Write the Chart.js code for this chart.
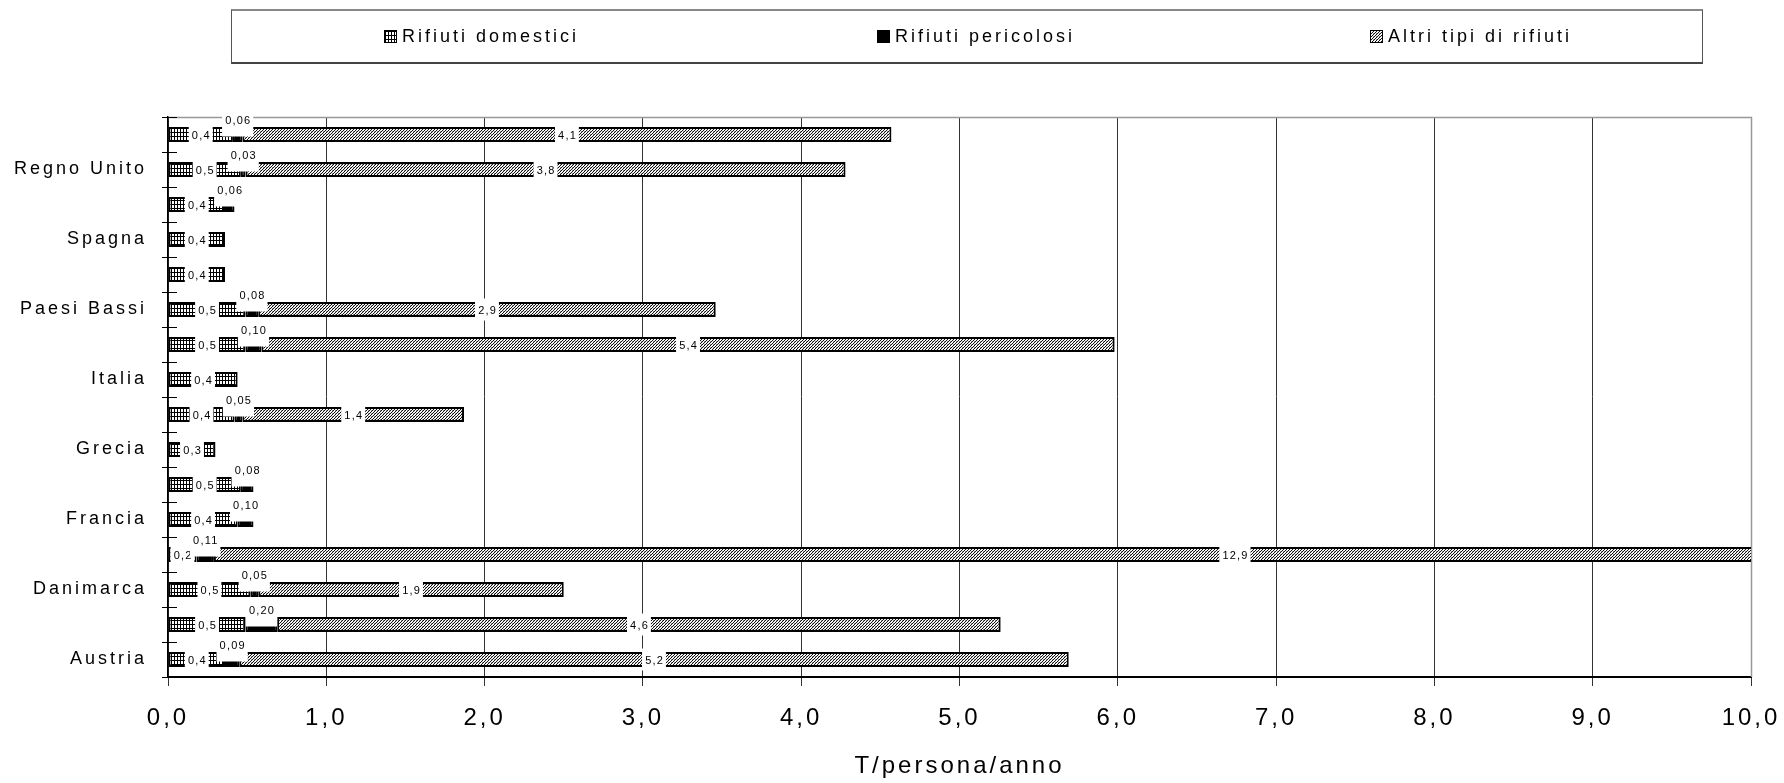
<!DOCTYPE html>
<html lang="it">
<head>
<meta charset="utf-8">
<title>Rifiuti per persona</title>
<script src="https://cdn.jsdelivr.net/npm/chart.js@4.4.1/dist/chart.umd.min.js"></script>
<style>
  html, body { margin: 0; padding: 0; background: #fff; }
  #wrap { position: relative; width: 1784px; height: 783px; overflow: hidden; }
  #grafico { position: absolute; left: 0; top: 0; }
  #legenda {
    position: absolute; left: 231px; top: 9px; width: 1470px; height: 51px;
    border: 1px solid #555; border-top: 2px solid #888; border-bottom: 2px solid #444;
    font: 18px "Liberation Sans", Arial, sans-serif; letter-spacing: 3px; color: #000;
  }
  .voce { position: absolute; top: 0; height: 100%; display: flex; align-items: center; white-space: nowrap; }
  .voce canvas { border: 1px solid #000; margin-right: 5px; }
</style>
</head>
<body>
<div id="wrap">
  <canvas id="grafico" width="1784" height="783"></canvas>
  <div id="legenda"></div>
</div>
<script>
// paesi dal basso verso l'alto (le righe senza nome restano vuote)
const CATEGORIE = ['Austria', '', 'Danimarca', '', 'Francia', '', 'Grecia', '', 'Italia', '',
  'Paesi Bassi', '', 'Spagna', '', 'Regno Unito', ''];
const SERIE = ['Rifiuti domestici', 'Rifiuti pericolosi', 'Altri tipi di rifiuti'];

// T/persona/anno
const DOMESTICI = [0.36, 0.49, 0.52, 0.18, 0.44, 0.46, 0.30, 0.42, 0.44, 0.49, 0.49, 0.36, 0.36, 0.36, 0.46, 0.41];
const PERICOLOSI = [0.09, 0.20, 0.05, 0.11, 0.10, 0.08, null, 0.05, null, 0.10, 0.08, null, null, 0.06, 0.03, 0.06];
const ALTRI = [5.24, 4.57, 1.93, 12.9, null, null, null, 1.40, null, 5.39, 2.89, null, null, null, 3.79, 4.10];
const DECIMALI = [1, 2, 1];

const ASSE_MIN = 0, ASSE_MAX = 10, ASSE_PASSO = 1;
const TITOLO_X = 'T/persona/anno';

const FONT = '"Liberation Sans", Arial, sans-serif';

// retini: griglia, pieno nero, tratteggio obliquo
function tessera(tipo) {
  const c = document.createElement('canvas');
  const g = c.getContext('2d');
  if (tipo === 'griglia') {
    c.width = 3; c.height = 4;
    g.fillStyle = '#fff'; g.fillRect(0, 0, 3, 4);
    g.fillStyle = '#000'; g.fillRect(0, 0, 1, 4); g.fillRect(0, 0, 3, 1);
  } else if (tipo === 'obliquo') {
    c.width = 3; c.height = 3;
    g.fillStyle = '#f4f4f4'; g.fillRect(0, 0, 3, 3);
    g.fillStyle = '#111'; g.fillRect(2, 0, 1, 1); g.fillRect(1, 1, 1, 1); g.fillRect(0, 2, 1, 1);
    g.fillStyle = '#999'; g.fillRect(2, 2, 1, 1);
  } else {
    c.width = 1; c.height = 1;
    g.fillStyle = '#000'; g.fillRect(0, 0, 1, 1);
  }
  return c;
}

const canvas = document.getElementById('grafico');
const ctx = canvas.getContext('2d');
const TESSERE = ['griglia', 'nero', 'obliquo'].map(tessera);
const RIEMPIMENTI = TESSERE.map(t => ctx.createPattern(t, 'repeat'));

// legenda in alto
const POS_LEGENDA = [152, 645, 1138];
const legenda = document.getElementById('legenda');
SERIE.forEach((nome, i) => {
  const voce = document.createElement('div');
  voce.className = 'voce';
  voce.style.left = POS_LEGENDA[i] + 'px';
  const q = document.createElement('canvas');
  q.width = 11; q.height = 11;
  const qg = q.getContext('2d');
  qg.fillStyle = qg.createPattern(TESSERE[i], 'repeat');
  qg.fillRect(0, 0, 11, 11);
  voce.appendChild(q);
  voce.appendChild(document.createTextNode(nome));
  legenda.appendChild(voce);
});

const virgola = (v, d) => v.toFixed(d).replace('.', ',');

// spaziatura delle lettere come nell'originale
const spaziatura = {
  id: 'spaziatura',
  beforeDraw(chart) { chart.ctx.letterSpacing = '3px'; }
};

// cornice dell'area del grafico e tacche sull'asse verticale
const cornice = {
  id: 'cornice',
  beforeDatasetsDraw(chart) {
    const { ctx, chartArea: a, scales: { y } } = chart;
    ctx.save();
    ctx.strokeStyle = '#999';
    ctx.lineWidth = 1.5;
    ctx.beginPath();
    ctx.moveTo(a.left, a.top + 0.5);
    ctx.lineTo(a.right + 0.5, a.top + 0.5);
    ctx.lineTo(a.right + 0.5, a.bottom);
    ctx.stroke();
    const passo = Math.abs(y.getPixelForValue(1) - y.getPixelForValue(0));
    ctx.strokeStyle = '#000';
    ctx.lineWidth = 1;
    ctx.beginPath();
    for (let i = 0; i <= CATEGORIE.length; i++) {
      const py = Math.round(y.getPixelForValue(i) + passo / 2) + 0.5;
      ctx.moveTo(a.left - 6, py);
      ctx.lineTo(a.left + 9, py);
    }
    ctx.stroke();
    ctx.restore();
  }
};

// etichette dei valori con sfondo bianco; quelle dei pericolosi stanno sopra la barra
const etichette = {
  id: 'etichette',
  afterDatasetsDraw(chart) {
    const ctx = chart.ctx;
    ctx.save();
    ctx.font = '11px ' + FONT;
    ctx.letterSpacing = '1.2px';
    ctx.textAlign = 'center';
    ctx.textBaseline = 'middle';
    chart.data.datasets.forEach((ds, i) => {
      const meta = chart.getDatasetMeta(i);
      meta.data.forEach((bar, j) => {
        const v = ds.data[j];
        if (v == null) return;
        const testo = virgola(v, DECIMALI[i]);
        const x = (bar.x + bar.base) / 2;
        const w = ctx.measureText(testo).width + 5;
        let ty, top, h;
        if (i === 1) {
          ty = bar.y - 15;
          top = ty - 10;
          h = bar.y + 2 - top;
        } else {
          ty = bar.y;
          top = ty - 11;
          h = 22;
        }
        ctx.fillStyle = '#fff';
        ctx.fillRect(x - w / 2, top, w, h);
        ctx.fillStyle = '#000';
        ctx.fillText(testo, x + 0.6, ty + 1);
      });
    });
    ctx.restore();
  }
};

new Chart(ctx, {
  type: 'bar',
  data: {
    labels: CATEGORIE,
    datasets: [DOMESTICI, PERICOLOSI, ALTRI].map((valori, i) => ({
      label: SERIE[i],
      data: valori,
      backgroundColor: RIEMPIMENTI[i],
      borderColor: '#000',
      borderWidth: 2,
      borderSkipped: false,
      barPercentage: 0.43,
      categoryPercentage: 1
    }))
  },
  options: {
    indexAxis: 'y',
    responsive: false,
    maintainAspectRatio: false,
    devicePixelRatio: 1,
    animation: false,
    events: [],
    layout: { padding: { left: 0, right: 33, top: 117, bottom: 0 } },
    plugins: {
      legend: { display: false },
      tooltip: { enabled: false }
    },
    scales: {
      x: {
        stacked: true,
        min: ASSE_MIN,
        max: ASSE_MAX,
        afterFit(s) {
          s.height = 106;
          s.paddingLeft = 0;
          s.paddingRight = 0;
        },
        ticks: {
          stepSize: ASSE_PASSO,
          autoSkip: false,
          maxRotation: 0,
          padding: 18,
          color: '#000',
          font: { family: FONT, size: 24 },
          callback: v => virgola(v, 1)
        },
        grid: { color: '#333', lineWidth: 1, tickLength: 9, drawTicks: true },
        border: { color: '#000', width: 2 },
        title: {
          display: true,
          text: TITOLO_X,
          color: '#000',
          font: { family: FONT, size: 24 },
          padding: { top: 0, bottom: 2 }
        }
      },
      y: {
        stacked: true,
        reverse: true,
        afterFit(s) { s.width = 168; },
        ticks: {
          autoSkip: false,
          padding: 21,
          color: '#000',
          font: { family: FONT, size: 18 }
        },
        grid: { drawOnChartArea: false, drawTicks: false },
        border: { color: '#000', width: 1.5 }
      }
    }
  },
  plugins: [spaziatura, cornice, etichette]
});
</script>
</body>
</html>
